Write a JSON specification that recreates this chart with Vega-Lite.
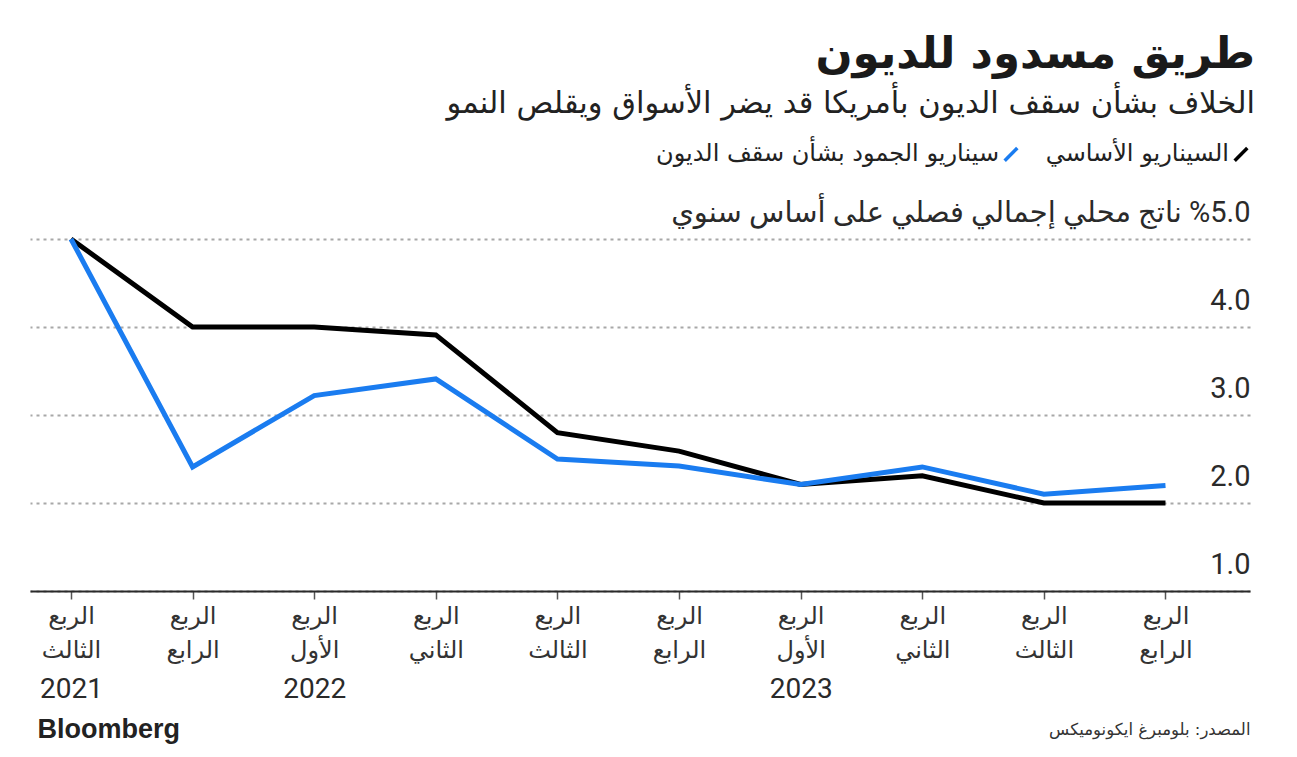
{
  "$schema": "https://vega.github.io/schema/vega-lite/v6.json",
  "autosize": "none",
  "width": 1220,
  "height": 352,
  "padding": {"left": 30, "top": 239, "right": 47, "bottom": 166},
  "background": "#ffffff",
  "config": {"view": {"stroke": null}, "font": "DejaVu Sans"},
  "title": {
    "text": "طريق مسدود للديون",
    "subtitle": "الخلاف بشأن سقف الديون بأمريكا قد يضر الأسواق ويقلص النمو",
    "anchor": "end",
    "orient": "top",
    "font": "DejaVu Sans",
    "fontSize": 43.5,
    "fontWeight": "bold",
    "color": "#1a1a1a",
    "subtitleFont": "DejaVu Sans",
    "subtitleFontSize": 30.5,
    "subtitleColor": "#222222",
    "subtitlePadding": 11,
    "offset": 22
  },
  "data": {
    "values": [
      {"i": 0, "series": "السيناريو الأساسي", "value": 5.0},
      {"i": 1, "series": "السيناريو الأساسي", "value": 4.0},
      {"i": 2, "series": "السيناريو الأساسي", "value": 4.0},
      {"i": 3, "series": "السيناريو الأساسي", "value": 3.91},
      {"i": 4, "series": "السيناريو الأساسي", "value": 2.8},
      {"i": 5, "series": "السيناريو الأساسي", "value": 2.59},
      {"i": 6, "series": "السيناريو الأساسي", "value": 2.21},
      {"i": 7, "series": "السيناريو الأساسي", "value": 2.31},
      {"i": 8, "series": "السيناريو الأساسي", "value": 2.0},
      {"i": 9, "series": "السيناريو الأساسي", "value": 2.0},
      {"i": 0, "series": "سيناريو الجمود بشأن سقف الديون", "value": 5.0},
      {"i": 1, "series": "سيناريو الجمود بشأن سقف الديون", "value": 2.41},
      {"i": 2, "series": "سيناريو الجمود بشأن سقف الديون", "value": 3.22},
      {"i": 3, "series": "سيناريو الجمود بشأن سقف الديون", "value": 3.41},
      {"i": 4, "series": "سيناريو الجمود بشأن سقف الديون", "value": 2.5},
      {"i": 5, "series": "سيناريو الجمود بشأن سقف الديون", "value": 2.42},
      {"i": 6, "series": "سيناريو الجمود بشأن سقف الديون", "value": 2.21},
      {"i": 7, "series": "سيناريو الجمود بشأن سقف الديون", "value": 2.41},
      {"i": 8, "series": "سيناريو الجمود بشأن سقف الديون", "value": 2.1},
      {"i": 9, "series": "سيناريو الجمود بشأن سقف الديون", "value": 2.2}
    ]
  },
  "encoding": {
    "y": {
      "field": "value",
      "type": "quantitative",
      "scale": {"domain": [1, 5], "nice": false, "zero": false},
      "axis": {
        "orient": "right",
        "title": null,
        "values": [1, 2, 3, 4, 5],
        "domain": false,
        "ticks": false,
        "tickSize": 0,
        "labelPadding": 0,
        "labelAlign": "right",
        "labelBaseline": "alphabetic",
        "labelOffset": -18,
        "labelLimit": 1200,
        "labelFont": "Roboto, DejaVu Sans",
        "labelFontSize": 29,
        "labelColor": "#2a2a2a",
        "labelExpr": "datum.value == 5 ? '\u200F%5.0 ناتج محلي إجمالي فصلي على أساس سنوي' : format(datum.value, '.1f')",
        "grid": true,
        "gridColor": "#a8a8a8",
        "gridWidth": 2,
        "gridDash": [3, 4]
      }
    },
    "color": {
      "field": "series",
      "type": "nominal",
      "scale": {
        "domain": ["سيناريو الجمود بشأن سقف الديون", "السيناريو الأساسي"],
        "range": ["#1a7cf0", "#000000"]
      },
      "legend": {
        "orient": "none",
        "legendX": 969,
        "legendY": -97,
        "direction": "horizontal",
        "title": null,
        "symbolType": "M-1,1L1,-1",
        "symbolSize": 160,
        "symbolStrokeWidth": 3.5,
        "labelFont": "DejaVu Sans",
        "labelFontSize": 24,
        "labelColor": "#222222",
        "labelAlign": "right",
        "labelOffset": -24,
        "columnPadding": 20,
        "labelLimit": 500
      }
    }
  },
  "layer": [
    {
      "transform": [{"filter": "datum.series == 'السيناريو الأساسي'"}],
      "mark": {"type": "line", "strokeWidth": 5, "strokeJoin": "miter"},
      "encoding": {
        "x": {
          "field": "i",
          "type": "quantitative",
          "scale": {"domain": [-0.337, 9.695], "nice": false, "zero": false},
          "axis": {
            "orient": "bottom",
            "title": "المصدر: بلومبرغ ايكونوميكس",
            "titleFont": "DejaVu Sans",
            "titleFontSize": 16.5,
            "titleFontWeight": "normal",
            "titleColor": "#333333",
            "titleAnchor": "end",
            "titleAlign": "right",
            "titlePadding": 59,
            "values": [0, 1, 2, 3, 4, 5, 6, 7, 8, 9],
            "grid": false,
            "domain": true,
            "domainColor": "#2a2a2a",
            "domainWidth": 2,
            "ticks": true,
            "tickSize": 8,
            "tickColor": "#555555",
            "tickWidth": 1.5,
            "labelPadding": 5,
            "labelFont": "DejaVu Sans",
            "labelFontSize": 24,
            "labelColor": "#333333",
            "labelLineHeight": 34,
            "labelExpr": "['الربع', ['الثالث','الرابع','الأول','الثاني','الثالث','الرابع','الأول','الثاني','الثالث','الرابع'][datum.value]]"
          }
        }
      }
    },
    {
      "transform": [{"filter": "datum.series == 'سيناريو الجمود بشأن سقف الديون'"}],
      "mark": {"type": "line", "strokeWidth": 5, "strokeJoin": "miter"},
      "encoding": {
        "x": {
          "field": "i",
          "type": "quantitative",
          "scale": {"domain": [-0.337, 9.695], "nice": false, "zero": false},
          "axis": {
            "orient": "bottom",
            "title": "Bloomberg",
            "titleFont": "Liberation Sans",
            "titleFontSize": 27,
            "titleFontWeight": "bold",
            "titleColor": "#222222",
            "titleAnchor": "start",
            "titleAlign": "left",
            "titleX": 7,
            "titlePadding": 13,
            "values": [0, 2, 6],
            "grid": false,
            "domain": false,
            "ticks": false,
            "tickSize": 0,
            "labelPadding": 84,
            "labelFont": "Roboto, DejaVu Sans",
            "labelFontSize": 28,
            "labelColor": "#2a2a2a",
            "labelExpr": "datum.value == 0 ? '2021' : datum.value == 2 ? '2022' : '2023'"
          }
        }
      }
    }
  ],
  "resolve": {"axis": {"x": "independent"}}
}
